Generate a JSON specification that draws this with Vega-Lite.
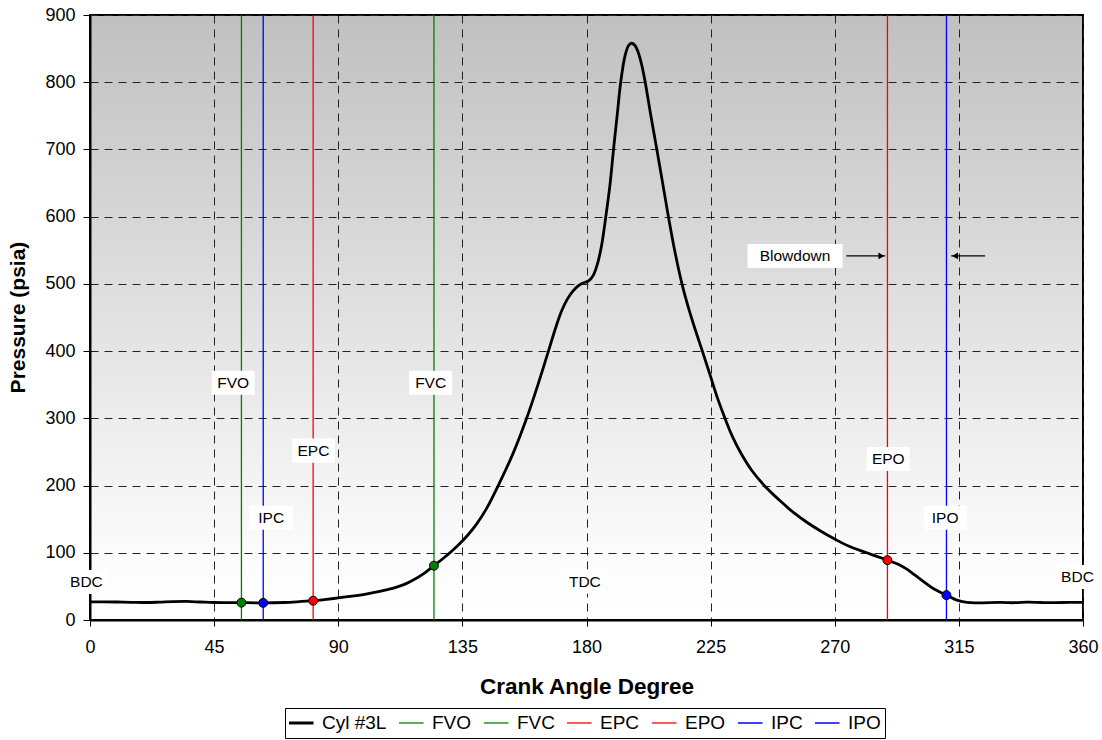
{
  "$schema": "https://vega.github.io/schema/vega-lite/v6.json",
  "width": 993,
  "height": 605,
  "autosize": "none",
  "padding": {"left": 90, "top": 15, "right": 19, "bottom": 120},
  "background": "white",
  "config": {
    "font": "Liberation Sans",
    "view": {
      "stroke": "black",
      "strokeWidth": 2,
      "fill": {"gradient": "linear", "x1": 0, "y1": 0, "x2": 0, "y2": 1,
        "stops": [{"offset": 0, "color": "#c0c0c0"}, {"offset": 0.9, "color": "#fcfcfc"}, {"offset": 1, "color": "#ffffff"}]}
    },
    "axis": {
      "domainColor": "black", "domainWidth": 2,
      "tickColor": "black", "tickWidth": 1,
      "labelColor": "black", "labelFont": "Liberation Sans", "labelFontSize": 18, "labelFlush": false,
      "titleFont": "Liberation Sans", "titleFontSize": 21, "titleFontWeight": "bold", "titleColor": "black",
      "gridColor": "#222222", "gridDash": [8, 6], "gridWidth": 1, "gridOpacity": 1
    },
    "legend": {
      "strokeColor": "black", "strokeWidth": 1, "padding": 4,
      "labelFont": "Liberation Sans", "labelFontSize": 19, "labelColor": "black",
      "symbolType": "stroke", "symbolSize": 900, "columnPadding": 12, "labelOffset": 14, "clipHeight": 22,
      "symbolStrokeWidth": {"expr": "datum.value === 'Cyl #3L' ? 3 : 1.3"}
    }
  },
  "datasets": {
    "curve": [
      {"series": "Cyl #3L", "deg": 0, "psi": 27},
      {"series": "Cyl #3L", "deg": 5, "psi": 27},
      {"series": "Cyl #3L", "deg": 10, "psi": 26.8},
      {"series": "Cyl #3L", "deg": 15, "psi": 26.3},
      {"series": "Cyl #3L", "deg": 20, "psi": 26},
      {"series": "Cyl #3L", "deg": 25, "psi": 26.5},
      {"series": "Cyl #3L", "deg": 30, "psi": 27.3},
      {"series": "Cyl #3L", "deg": 35, "psi": 27.6},
      {"series": "Cyl #3L", "deg": 40, "psi": 26.8},
      {"series": "Cyl #3L", "deg": 45, "psi": 26},
      {"series": "Cyl #3L", "deg": 50, "psi": 25.8},
      {"series": "Cyl #3L", "deg": 55, "psi": 25.8},
      {"series": "Cyl #3L", "deg": 60, "psi": 25.6},
      {"series": "Cyl #3L", "deg": 63, "psi": 25.5},
      {"series": "Cyl #3L", "deg": 70, "psi": 26},
      {"series": "Cyl #3L", "deg": 75, "psi": 27},
      {"series": "Cyl #3L", "deg": 81, "psi": 28.7},
      {"series": "Cyl #3L", "deg": 85, "psi": 30.4},
      {"series": "Cyl #3L", "deg": 90, "psi": 32.8},
      {"series": "Cyl #3L", "deg": 95, "psi": 35.5},
      {"series": "Cyl #3L", "deg": 100, "psi": 38.6},
      {"series": "Cyl #3L", "deg": 105, "psi": 42.5},
      {"series": "Cyl #3L", "deg": 110, "psi": 47.5},
      {"series": "Cyl #3L", "deg": 114, "psi": 53},
      {"series": "Cyl #3L", "deg": 117.2, "psi": 59.5},
      {"series": "Cyl #3L", "deg": 121, "psi": 69},
      {"series": "Cyl #3L", "deg": 124.7, "psi": 80.8},
      {"series": "Cyl #3L", "deg": 128, "psi": 91.5},
      {"series": "Cyl #3L", "deg": 131, "psi": 102},
      {"series": "Cyl #3L", "deg": 134, "psi": 113.5},
      {"series": "Cyl #3L", "deg": 137, "psi": 126.5},
      {"series": "Cyl #3L", "deg": 140.2, "psi": 143},
      {"series": "Cyl #3L", "deg": 143.8, "psi": 166},
      {"series": "Cyl #3L", "deg": 148, "psi": 200},
      {"series": "Cyl #3L", "deg": 153.5, "psi": 249},
      {"series": "Cyl #3L", "deg": 158.3, "psi": 300},
      {"series": "Cyl #3L", "deg": 162, "psi": 345},
      {"series": "Cyl #3L", "deg": 166.2, "psi": 400},
      {"series": "Cyl #3L", "deg": 169, "psi": 437},
      {"series": "Cyl #3L", "deg": 171, "psi": 460},
      {"series": "Cyl #3L", "deg": 173, "psi": 477},
      {"series": "Cyl #3L", "deg": 175, "psi": 489},
      {"series": "Cyl #3L", "deg": 177, "psi": 497},
      {"series": "Cyl #3L", "deg": 178.5, "psi": 501},
      {"series": "Cyl #3L", "deg": 180, "psi": 503},
      {"series": "Cyl #3L", "deg": 181.2, "psi": 506},
      {"series": "Cyl #3L", "deg": 182.5, "psi": 513},
      {"series": "Cyl #3L", "deg": 184, "psi": 530},
      {"series": "Cyl #3L", "deg": 185.5, "psi": 558},
      {"series": "Cyl #3L", "deg": 187, "psi": 600},
      {"series": "Cyl #3L", "deg": 188.5, "psi": 647},
      {"series": "Cyl #3L", "deg": 189.8, "psi": 700},
      {"series": "Cyl #3L", "deg": 191.2, "psi": 754},
      {"series": "Cyl #3L", "deg": 192.4, "psi": 800},
      {"series": "Cyl #3L", "deg": 194, "psi": 840},
      {"series": "Cyl #3L", "deg": 195.3, "psi": 855},
      {"series": "Cyl #3L", "deg": 196.3, "psi": 858},
      {"series": "Cyl #3L", "deg": 197.5, "psi": 855},
      {"series": "Cyl #3L", "deg": 198.8, "psi": 844},
      {"series": "Cyl #3L", "deg": 200, "psi": 826},
      {"series": "Cyl #3L", "deg": 201.2, "psi": 802},
      {"series": "Cyl #3L", "deg": 203.3, "psi": 751},
      {"series": "Cyl #3L", "deg": 205.5, "psi": 700},
      {"series": "Cyl #3L", "deg": 207.6, "psi": 650},
      {"series": "Cyl #3L", "deg": 209.7, "psi": 600},
      {"series": "Cyl #3L", "deg": 212, "psi": 549},
      {"series": "Cyl #3L", "deg": 214.5, "psi": 502},
      {"series": "Cyl #3L", "deg": 217, "psi": 464},
      {"series": "Cyl #3L", "deg": 219.5, "psi": 431},
      {"series": "Cyl #3L", "deg": 222, "psi": 400},
      {"series": "Cyl #3L", "deg": 225, "psi": 362},
      {"series": "Cyl #3L", "deg": 227.5, "psi": 330},
      {"series": "Cyl #3L", "deg": 230.2, "psi": 300},
      {"series": "Cyl #3L", "deg": 233, "psi": 272},
      {"series": "Cyl #3L", "deg": 236, "psi": 248},
      {"series": "Cyl #3L", "deg": 240, "psi": 222},
      {"series": "Cyl #3L", "deg": 244.7, "psi": 199},
      {"series": "Cyl #3L", "deg": 250, "psi": 178},
      {"series": "Cyl #3L", "deg": 255, "psi": 160},
      {"series": "Cyl #3L", "deg": 260, "psi": 145},
      {"series": "Cyl #3L", "deg": 265, "psi": 132},
      {"series": "Cyl #3L", "deg": 269.5, "psi": 121.5},
      {"series": "Cyl #3L", "deg": 275, "psi": 110},
      {"series": "Cyl #3L", "deg": 281.6, "psi": 100},
      {"series": "Cyl #3L", "deg": 285, "psi": 95},
      {"series": "Cyl #3L", "deg": 289.1, "psi": 89},
      {"series": "Cyl #3L", "deg": 293, "psi": 83},
      {"series": "Cyl #3L", "deg": 296, "psi": 76},
      {"series": "Cyl #3L", "deg": 299, "psi": 67},
      {"series": "Cyl #3L", "deg": 302.2, "psi": 57},
      {"series": "Cyl #3L", "deg": 306, "psi": 46},
      {"series": "Cyl #3L", "deg": 310.5, "psi": 37},
      {"series": "Cyl #3L", "deg": 314, "psi": 30},
      {"series": "Cyl #3L", "deg": 317.9, "psi": 26.2},
      {"series": "Cyl #3L", "deg": 322, "psi": 25.6},
      {"series": "Cyl #3L", "deg": 330, "psi": 26.2},
      {"series": "Cyl #3L", "deg": 335, "psi": 25.7},
      {"series": "Cyl #3L", "deg": 340, "psi": 26.5},
      {"series": "Cyl #3L", "deg": 345, "psi": 26},
      {"series": "Cyl #3L", "deg": 350, "psi": 25.8},
      {"series": "Cyl #3L", "deg": 355, "psi": 26.3},
      {"series": "Cyl #3L", "deg": 360, "psi": 26.3}
    ],
    "events": [
      {"series": "FVO", "deg": 54.9, "psi": 25.8},
      {"series": "FVC", "deg": 124.7, "psi": 80.8},
      {"series": "EPC", "deg": 80.9, "psi": 28.7},
      {"series": "EPO", "deg": 289.1, "psi": 89},
      {"series": "IPC", "deg": 62.8, "psi": 25.5},
      {"series": "IPO", "deg": 310.5, "psi": 37}
    ],
    "labels": [
      {"label": "FVO", "deg": 51.9, "psi": 353},
      {"label": "IPC", "deg": 65.7, "psi": 152},
      {"label": "EPC", "deg": 81, "psi": 252},
      {"label": "FVC", "deg": 123.5, "psi": 353},
      {"label": "EPO", "deg": 289.4, "psi": 239.5},
      {"label": "IPO", "deg": 310, "psi": 152},
      {"label": "BDC", "deg": -1.3, "psi": 56.5},
      {"label": "TDC", "deg": 179.4, "psi": 57},
      {"label": "BDC", "deg": 358, "psi": 64},
      {"label": "Blowdown", "deg": 255.6, "psi": 541.6}
    ],
    "arrows": [
      {"dir": "right", "from": 274.2, "to": 288.3, "head": 286.9, "psi": 541.6},
      {"dir": "left", "from": 324.5, "to": 312.2, "head": 313.6, "psi": 541.6}
    ]
  },
  "layer": [
    {
      "data": {"name": "events"},
      "mark": {"type": "rule", "strokeWidth": 1.3},
      "encoding": {
        "x": {"field": "deg", "type": "quantitative", "scale": {"domain": [0, 360], "nice": false, "zero": false},
          "axis": {"values": [0, 45, 90, 135, 180, 225, 270, 315, 360], "title": "Crank Angle Degree", "tickSize": 6, "labelPadding": 12, "titleY": 66, "titleBaseline": "middle", "titleAngle": 0, "titleFontSize": 22.5}},
        "color": {"field": "series", "type": "nominal",
          "scale": {"domain": ["Cyl #3L", "FVO", "FVC", "EPC", "EPO", "IPC", "IPO"], "range": ["#000000", "#008000", "#008000", "#ff0000", "#ff0000", "#0000ff", "#0000ff"]},
          "legend": {"title": null, "orient": "none", "legendX": 195, "legendY": 693, "direction": "horizontal", "columns": 7}}
      }
    },
    {
      "data": {"name": "curve"},
      "mark": {"type": "line", "interpolate": "catmull-rom", "strokeWidth": 2.8},
      "encoding": {
        "x": {"field": "deg", "type": "quantitative", "scale": {"domain": [0, 360], "nice": false, "zero": false}, "title": "Crank Angle Degree"},
        "y": {"field": "psi", "type": "quantitative", "scale": {"domain": [0, 900], "nice": false},
          "axis": {"values": [0, 100, 200, 300, 400, 500, 600, 700, 800, 900], "title": "Pressure (psia)", "tickSize": 7, "labelPadding": 8, "titleX": -72, "titleY": 302, "titleBaseline": "middle", "titleAngle": -90}},
        "color": {"field": "series", "type": "nominal",
          "scale": {"domain": ["Cyl #3L", "FVO", "FVC", "EPC", "EPO", "IPC", "IPO"], "range": ["#000000", "#008000", "#008000", "#ff0000", "#ff0000", "#0000ff", "#0000ff"]}}
      }
    },
    {
      "data": {"name": "events"},
      "mark": {"type": "point", "filled": true, "size": 80, "stroke": "black", "strokeWidth": 1, "opacity": 1},
      "encoding": {
        "x": {"field": "deg", "type": "quantitative", "scale": {"domain": [0, 360], "nice": false, "zero": false}, "title": "Crank Angle Degree"},
        "y": {"field": "psi", "type": "quantitative", "scale": {"domain": [0, 900], "nice": false}, "title": "Pressure (psia)"},
        "fill": {"field": "series", "type": "nominal",
          "scale": {"domain": ["Cyl #3L", "FVO", "FVC", "EPC", "EPO", "IPC", "IPO"], "range": ["#000000", "#008000", "#008000", "#ff0000", "#ff0000", "#0000ff", "#0000ff"]},
          "legend": null}
      }
    },
    {
      "data": {"name": "arrows"},
      "mark": {"type": "rule", "color": "black", "strokeWidth": 1.2},
      "encoding": {
        "x": {"field": "from", "type": "quantitative", "scale": {"domain": [0, 360], "nice": false, "zero": false}, "title": "Crank Angle Degree"},
        "x2": {"field": "to"},
        "y": {"field": "psi", "type": "quantitative", "scale": {"domain": [0, 900], "nice": false}, "title": "Pressure (psia)"}
      }
    },
    {
      "data": {"name": "arrows"},
      "mark": {"type": "point", "filled": true, "color": "black", "size": 45, "opacity": 1},
      "encoding": {
        "x": {"field": "head", "type": "quantitative", "scale": {"domain": [0, 360], "nice": false, "zero": false}, "title": "Crank Angle Degree"},
        "y": {"field": "psi", "type": "quantitative", "scale": {"domain": [0, 900], "nice": false}, "title": "Pressure (psia)"},
        "shape": {"field": "dir", "type": "nominal", "scale": {"domain": ["right", "left"], "range": ["triangle-right", "triangle-left"]}, "legend": null}
      }
    },
    {
      "data": {"name": "labels"},
      "transform": [{"filter": "datum.label !== 'Blowdown'"}],
      "mark": {"type": "point", "filled": true, "color": "white", "opacity": 1, "shape": "M-1,-0.56H1V0.56H-1Z", "size": 1849},
      "encoding": {
        "x": {"field": "deg", "type": "quantitative", "scale": {"domain": [0, 360], "nice": false, "zero": false}, "title": "Crank Angle Degree"},
        "y": {"field": "psi", "type": "quantitative", "scale": {"domain": [0, 900], "nice": false}, "title": "Pressure (psia)"}
      }
    },
    {
      "data": {"name": "labels"},
      "transform": [{"filter": "datum.label === 'Blowdown'"}],
      "mark": {"type": "point", "filled": true, "color": "white", "opacity": 1, "shape": "M-1,-0.253H1V0.253H-1Z", "size": 9025},
      "encoding": {
        "x": {"field": "deg", "type": "quantitative", "scale": {"domain": [0, 360], "nice": false, "zero": false}, "title": "Crank Angle Degree"},
        "y": {"field": "psi", "type": "quantitative", "scale": {"domain": [0, 900], "nice": false}, "title": "Pressure (psia)"}
      }
    },
    {
      "data": {"name": "labels"},
      "mark": {"type": "text", "font": "Liberation Sans", "fontSize": 15.5, "color": "black", "align": "center", "baseline": "middle"},
      "encoding": {
        "x": {"field": "deg", "type": "quantitative", "scale": {"domain": [0, 360], "nice": false, "zero": false}, "title": "Crank Angle Degree"},
        "y": {"field": "psi", "type": "quantitative", "scale": {"domain": [0, 900], "nice": false}, "title": "Pressure (psia)"},
        "text": {"field": "label"}
      }
    }
  ]
}
